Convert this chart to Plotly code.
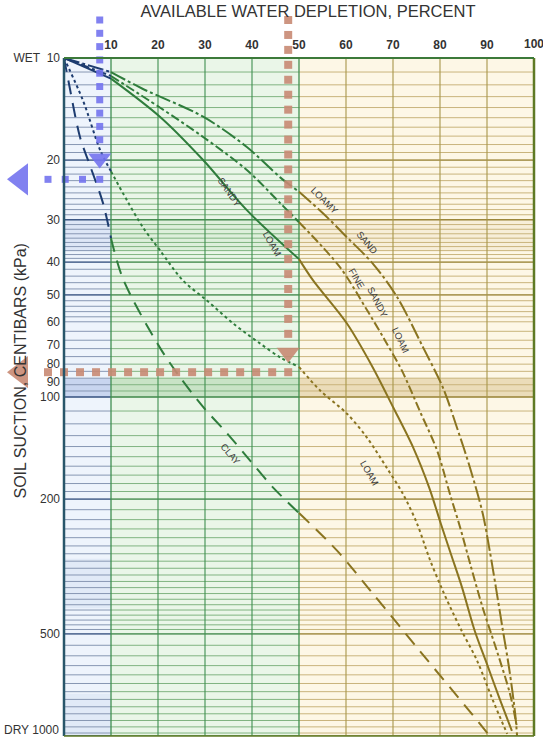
import numpy as np
import plotly.graph_objects as go

# ---------------- data ----------------
depletion_ticks = [10, 20, 30, 40, 50, 60, 70, 80, 90, 100]
suction_tickvals = [10, 20, 30, 40, 50, 60, 70, 80, 90, 100, 200, 500, 1000]
suction_ticktext = ["WET  10", "20", "30", "40", "50", "60", "70", "80", "90",
                    "100", "200", "500", "DRY 1000"]

loamy_sand_x = [0, 10, 16.6, 29.6, 38.9, 46, 50, 55.1, 60.2, 65.7, 70.9, 76.4, 80.6,
                83.6, 86.4, 89.1, 90.6, 91.9, 93.4, 94.7, 96.0, 96.4]
loamy_sand_y = [10, 11.0, 12.3, 14.9, 18.3, 22.5, 24.8, 28.7, 33.8, 40.4, 50.8, 71.4, 93.7,
                123, 162, 221, 285, 365, 490, 630, 861, 1000]

fine_sandy_loam_x = [0, 10, 20.4, 29.6, 38.9, 46, 50, 58.7, 64.5, 68.3, 71.9, 75.7, 79.4,
                     82.1, 84.3, 86.4, 89.1, 92.1, 94.9, 96.4]
fine_sandy_loam_y = [10, 11.3, 14.0, 17.1, 21.4, 26.8, 30.5, 41.4, 55.5, 68.1, 83.6, 110, 144,
                     193, 243, 310, 419, 561, 752, 946]

sandy_loam_x = [0, 10, 20.4, 29.6, 38.9, 50, 53.0, 60.2, 65.7, 70.0, 74.3, 77.7, 80.2,
                82.3, 84.7, 87.4, 90.0, 92.6, 95.3]
sandy_loam_y = [10, 11.5, 14.9, 20.0, 28.1, 39.2, 45.3, 60.7, 81.8, 107, 141, 185, 237,
                290, 365, 490, 614, 771, 966]

loam_x = [0, 4.0, 7.7, 10, 13.4, 16.8, 20.4, 25.3, 30.4, 36.0, 41.7, 46, 50, 54.5, 60.2,
          64.5, 68.7, 72.1, 75.1, 77.7, 80.6, 84.3, 87.9, 91.3, 94.3]
loam_y = [10, 13.3, 18.7, 21.6, 26.3, 31.6, 36.9, 45.3, 51.9, 60.7, 69.5, 76.4, 81.5, 95.7, 112,
          132, 162, 193, 236, 298, 373, 480, 600, 788, 986]

clay_x = [0, 0.9, 3.4, 5.5, 8.3, 10, 12.6, 20.4, 24.7, 29.6, 34.7, 39.6, 44.5, 50, 58.1,
          65.7, 75.7, 85.7, 90.6]
clay_y = [10, 11.6, 17.1, 20.7, 26.8, 34, 45, 71.5, 87.5, 107, 128, 154, 185, 220, 284,
          380, 561, 826, 1000]

# example readings shown by the dotted arrows
blue_depletion, blue_suction = 7.6, 22.8
brown_depletion, brown_suction = 47.7, 84.5

# ---------------- layout geometry ----------------
W, H = 543, 738
PL, PR, PT, PB = 64, 534, 58, 736          # plot box in pixels
x_lo, x_hi = 0, 100
y_lo_log, y_hi_log = 1, 3                  # 10 (top) .. 1000 (bottom)
px_per_x = (PR - PL) / (x_hi - x_lo)
px_per_dec = (PB - PT) / (y_hi_log - y_lo_log)
x2_range = [x_lo - PL / px_per_x, x_hi + (W - PR) / px_per_x]
y2_range = [y_hi_log + (H - PB) / px_per_dec, y_lo_log - PT / px_per_dec]

FONT = "Liberation Sans"
zones = [(0, 10, "#1d3c70", "#eef4fc", "#8797b3"),
         (10, 50, "#2f7d3c", "#eaf6e8", "#80b480"),
         (50, 100, "#8a7420", "#fdf7e6", "#c9b47c")]

curves = [
    (loamy_sand_x, loamy_sand_y, "16px,3px,3px,3px"),
    (fine_sandy_loam_x, fine_sandy_loam_y, "9px,3px,3px,3px"),
    (sandy_loam_x, sandy_loam_y, "solid"),
    (loam_x, loam_y, "3px,3px"),
    (clay_x, clay_y, "14px,9px"),
]

fig = go.Figure()

shapes = []
for lo, hi, lc, bg, gc in zones:
    shapes.append(dict(type="rect", xref="x", yref="y domain", x0=lo, x1=hi, y0=0, y1=1,
                       fillcolor=bg, line_width=0, layer="below"))
band_strong = ["rgba(120,150,210,0.32)", "rgba(110,180,110,0.28)", "rgba(200,170,100,0.35)"]
band_faint = ["rgba(120,150,210,0.14)", "rgba(110,180,110,0.10)", "rgba(200,170,100,0.10)"]
for (lo, hi, lc, bg, gc), bs, bf in zip(zones, band_strong, band_faint):
    shapes.append(dict(type="rect", xref="x", yref="y", x0=lo, x1=hi, y0=88, y1=100,
                       fillcolor=bs, line_width=0, layer="below"))
    shapes.append(dict(type="rect", xref="x", yref="y", x0=lo, x1=hi, y0=30, y1=37,
                       fillcolor=bf, line_width=0, layer="below"))
shapes.append(dict(type="rect", xref="x", yref="y", x0=0, x1=10, y0=300, y1=420,
                   fillcolor="rgba(120,150,210,0.10)", line_width=0, layer="below"))
shapes.append(dict(type="rect", xref="x", yref="y", x0=0, x1=10, y0=750, y1=1000,
                   fillcolor="rgba(120,150,210,0.10)", line_width=0, layer="below"))

grid_vals = (list(range(10, 20)) + list(range(20, 40)) + list(range(40, 60, 2)) +
             list(range(60, 100, 4)) + list(range(100, 200, 10)) + list(range(200, 500, 15)) +
             list(range(500, 1000, 40)) + [1000])
major_vals = [10, 20, 30, 40, 50, 100, 200, 500, 1000]

for lo, hi, lc, bg, gc in zones:
    gx, gy = [], []
    for v in grid_vals:
        gx += [lo, hi, None]
        gy += [v, v, None]
    fig.add_trace(go.Scatter(x=gx, y=gy, mode="lines", line=dict(color=gc, width=1),
                             hoverinfo="skip", showlegend=False))
    mx, my = [], []
    for v in major_vals:
        mx += [lo, hi, None]
        my += [v, v, None]
    fig.add_trace(go.Scatter(x=mx, y=my, mode="lines", line=dict(color=lc, width=1.3),
                             opacity=0.75, hoverinfo="skip", showlegend=False))

for v in depletion_ticks[:-1]:
    col = "#3f8f4f" if v <= 50 else "#a8964a"
    fig.add_trace(go.Scatter(x=[v, v], y=[10, 1000], mode="lines",
                             line=dict(color=col, width=1.3 if v in (10, 50) else 1.1),
                             hoverinfo="skip", showlegend=False))

shapes.append(dict(type="line", xref="x domain", yref="y domain", x0=0, x1=0, y0=0, y1=1,
                   line=dict(color="#28566a", width=2.5), layer="above"))
shapes.append(dict(type="line", xref="x domain", yref="y domain", x0=1, x1=1, y0=0, y1=1,
                   line=dict(color="#5f7a24", width=2.5), layer="above"))
shapes.append(dict(type="line", xref="x domain", yref="y domain", x0=0, x1=1, y0=1, y1=1,
                   line=dict(color="#3c7a3a", width=2.2), layer="above"))
shapes.append(dict(type="line", xref="x domain", yref="y domain", x0=0, x1=1, y0=0, y1=0,
                   line=dict(color="#5f7a24", width=1.5), layer="above"))

for cx, cy, dash in curves:
    for lo, hi, lc, bg, gc in zones:
        sx = [x for x in cx if lo <= x <= hi]
        sy = [y for x, y in zip(cx, cy) if lo <= x <= hi]
        if len(sx) < 2:
            continue
        fig.add_trace(go.Scatter(x=sx, y=sy, mode="lines",
                                 line=dict(color=lc, width=2, dash=dash, shape="spline",
                                           smoothing=0.9),
                                 hoverinfo="skip", showlegend=False))

top_y = 10 ** (y_lo_log - 38 / px_per_dec)
left_x = x_lo - 16 / px_per_x
head_x = x_lo - 43 / px_per_x

def arrow(xv, yv, color, size, n_vert, n_horiz, vhead_y):
    vy = np.geomspace(top_y, vhead_y * 0.88, n_vert)
    fig.add_trace(go.Scatter(x=[xv] * n_vert, y=vy, mode="markers", xaxis="x2", yaxis="y2",
                             marker=dict(symbol="square", size=size, color=color),
                             hoverinfo="skip", showlegend=False))
    fig.add_trace(go.Scatter(x=[xv], y=[vhead_y], mode="markers", xaxis="x2", yaxis="y2",
                             marker=dict(symbol="triangle-down", size=20, color=color),
                             hoverinfo="skip", showlegend=False))
    hx = np.linspace(left_x, xv, n_horiz)
    fig.add_trace(go.Scatter(x=hx, y=[yv] * n_horiz, mode="markers", xaxis="x2", yaxis="y2",
                             marker=dict(symbol="square", size=size, color=color),
                             hoverinfo="skip", showlegend=False))
    fig.add_trace(go.Scatter(x=[head_x], y=[yv], mode="markers", xaxis="x2", yaxis="y2",
                             marker=dict(symbol="triangle-left", size=28, color=color),
                             hoverinfo="skip", showlegend=False))

arrow(blue_depletion, blue_suction, "rgba(115,115,238,0.9)", 7, 10, 4, 19.8)
arrow(brown_depletion, brown_suction, "rgba(200,138,115,0.9)", 8, 22, 16, 74)

labels = [
    ("SANDY", 35.3, 24.9, 55), ("LOAM", 44.3, 35.2, 60),
    ("LOAMY", 55.5, 26.3, 45), ("SAND", 64.5, 35.0, 50),
    ("FINE", 62.3, 44.7, 60), ("SANDY", 66.8, 52.6, 63), ("LOAM", 71.7, 68.1, 65),
    ("LOAM", 65.1, 168, 60), ("CLAY", 35.5, 148, 50),
]
annotations = []
for t, x, y, a in labels:
    annotations.append(dict(text=t, x=x, y=np.log10(y), xref="x", yref="y", showarrow=False,
                            textangle=a, font=dict(size=9.5, color="#3a3a3a", family=FONT)))

annotations.append(dict(text="SOIL SUCTION, CENTIBARS (kPa)", xref="paper", yref="paper",
                        x=9 / W, y=1 - 371 / H, textangle=-90, showarrow=False,
                        font=dict(size=16, color="#333333", family=FONT)))
annotations.append(dict(text="<b>100</b>", x=100, xref="x", y=1 - 44 / H, yref="paper",
                        yanchor="middle", showarrow=False,
                        font=dict(size=12, color="#333333", family=FONT)))
annotations.append(dict(text="DRY 1000", x=(PL - 3) / W, xanchor="right", xref="paper",
                        y=3, yref="y", yanchor="bottom", yshift=-3, showarrow=False,
                        font=dict(size=12, color="#333333", family=FONT)))

fig.update_layout(
    width=W, height=H,
    margin=dict(l=0, r=0, t=0, b=0, autoexpand=False),
    paper_bgcolor="white", plot_bgcolor="rgba(0,0,0,0)",
    shapes=shapes, annotations=annotations,
    title=dict(text="AVAILABLE WATER DEPLETION, PERCENT", x=308 / W, y=1 - 11 / H,
               xanchor="center", yanchor="middle", xref="container", yref="container",
               automargin=False,
               font=dict(size=16.5, color="#333333", family=FONT)),
    xaxis=dict(domain=[PL / W, PR / W], range=[x_lo, x_hi], side="top", automargin=False,
               tickvals=depletion_ticks[:-1],
               ticktext=[str(v) for v in depletion_ticks[:-1]], showgrid=False, zeroline=False,
               showline=False, ticks="", ticklabelstandoff=6,
               tickfont=dict(size=12, color="#333333", family=FONT, weight="bold")),
    yaxis=dict(domain=[1 - PB / H, 1 - PT / H], type="log", range=[y_hi_log, y_lo_log],
               automargin=False,
               tickvals=suction_tickvals[:-1], ticktext=suction_ticktext[:-1],
               showgrid=False, zeroline=False, showline=False, ticks="", ticklabelstandoff=3,
               tickfont=dict(size=12, color="#333333", family=FONT)),
    xaxis2=dict(domain=[0, 1], range=x2_range, anchor="y2", visible=False, fixedrange=True,
                automargin=False),
    yaxis2=dict(domain=[0, 1], range=y2_range, type="log", anchor="x2", visible=False,
                fixedrange=True, automargin=False),
)

fig.write_html("out.html")
